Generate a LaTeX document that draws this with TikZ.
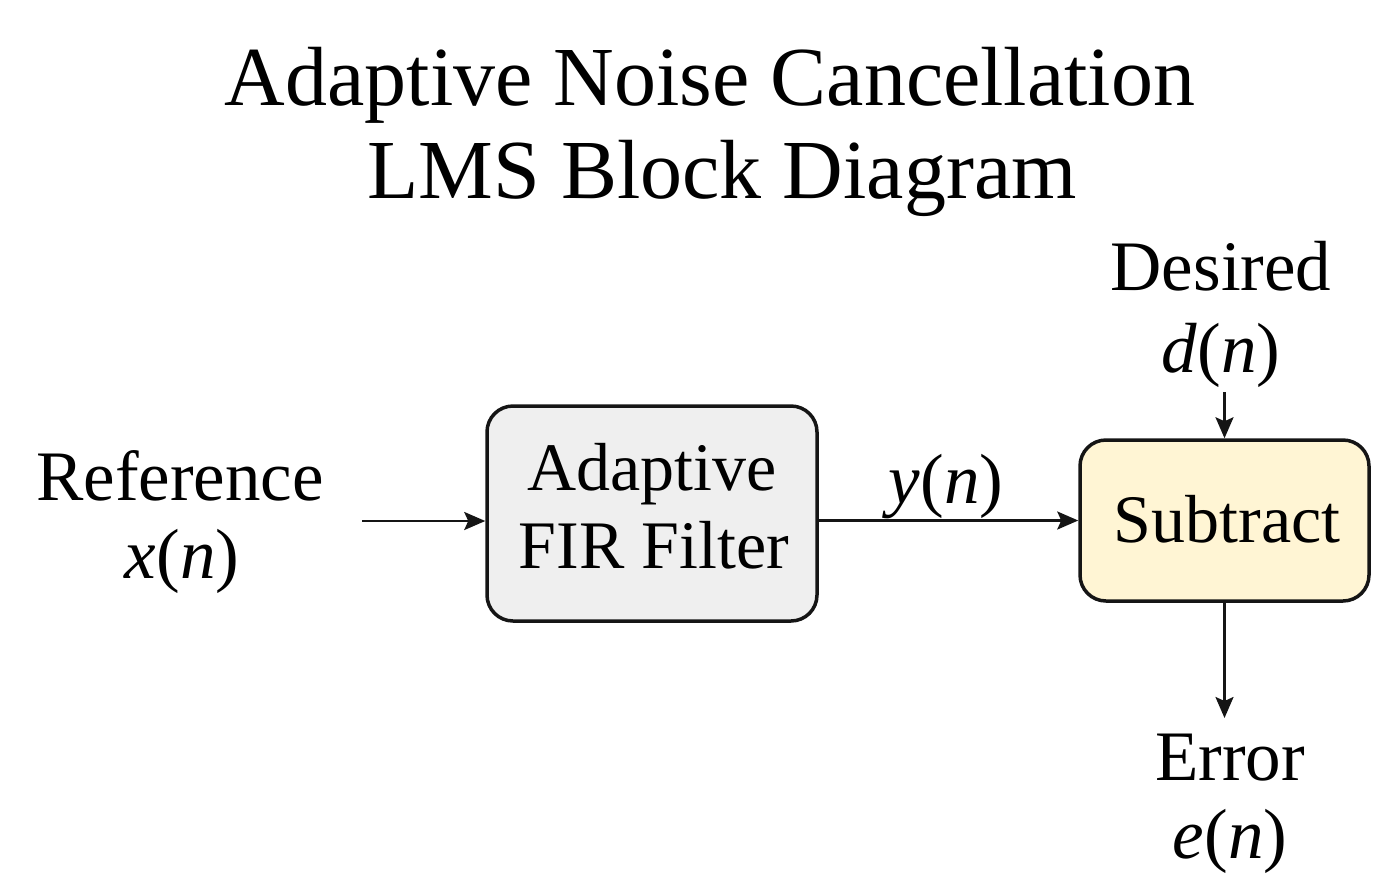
\documentclass[tikz,border=0pt]{standalone}
\usepackage{fontspec}
\setmainfont{Liberation Serif}
\usetikzlibrary{arrows.meta}
\definecolor{boxgray}{HTML}{EFEFEF}
\definecolor{boxcream}{HTML}{FFF5D4}
\definecolor{ink}{HTML}{151515}
\begin{document}
\begin{tikzpicture}[x=1pt,y=-1pt,
  txt/.style={anchor=base,inner sep=0pt,text=black},
  title/.style={txt,font=\fontsize{84}{96}\selectfont},
  lab/.style={txt,font=\fontsize{71}{80}\selectfont},
  boxtxt/.style={txt,font=\fontsize{68}{78}\selectfont},
  blk/.style={draw=ink,line width=3.5pt,rounded corners=26pt,inner sep=0pt},
  sig/.style={draw=ink,line width=2.4pt,-{Stealth[length=21pt,width=18pt,inset=4pt]}}]
\useasboundingbox (0,0) rectangle (1395,895);
% title
\node[title] (t1) at (710,105) {Adaptive Noise Cancellation};
\node[title] (t2) at (722,198) {LMS Block Diagram};
% blocks
\node[blk,fill=boxgray,minimum width=330pt,minimum height=215pt] (fir) at (652,513.5) {};
\node[boxtxt] (fir1) at (652,490) {Adaptive};
\node[boxtxt] (fir2) at (654,568) {FIR Filter};
\node[blk,fill=boxcream,minimum width=289pt,minimum height=161pt] (sub) at (1224.5,520.5) {};
\node[boxtxt] (subt) at (1227,542) {Subtract};
% labels
\node[lab] (ref1) at (180,500) {Reference};
\node[lab] (ref2) at (182,578) {\textit{x}(\textit{n})};
\node[lab] (des1) at (1221,290) {Desired};
\node[lab] (des2) at (1221,372) {\textit{d}(\textit{n})};
\node[lab] (err1) at (1230,780) {Error};
\node[lab] (err2) at (1230,858) {\textit{e}(\textit{n})};
\node[lab] (yn) at (946,503) {\textit{y}(\textit{n})};
% coordinates
\coordinate (xin) at (362,521);
\coordinate (din) at (1224.5,392);
\coordinate (eout) at (1224.5,718);
% connectors
\draw[sig] (xin) -- (xin -| fir.west);
\draw[sig] (fir.east |- sub.west) -- (sub.west);
\draw[sig] (din) -- (sub.north);
\draw[sig] (sub.south) -- (eout);
\end{tikzpicture}
\end{document}
